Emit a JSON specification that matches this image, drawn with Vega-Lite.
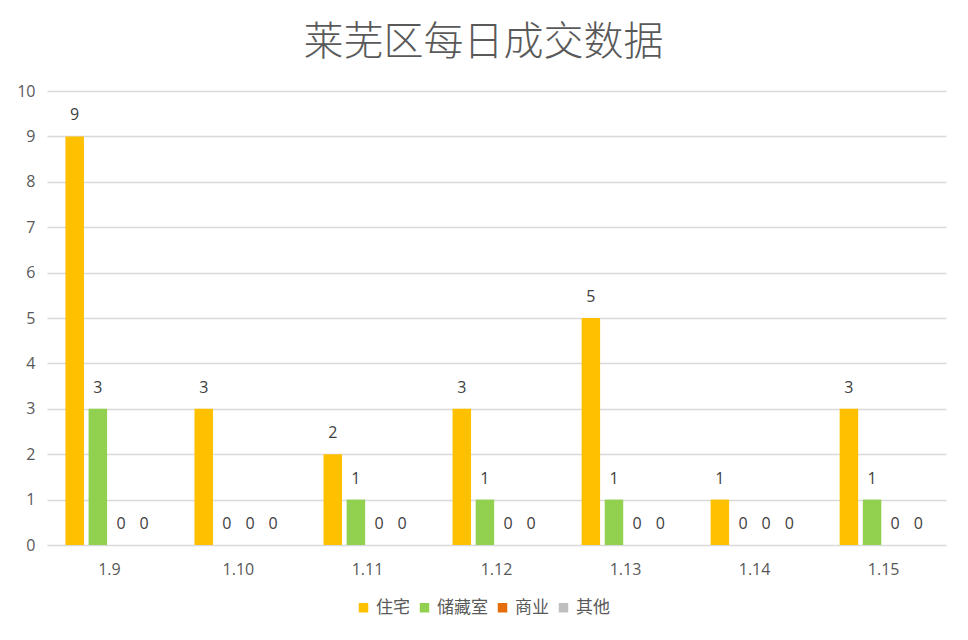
{
  "$schema": "https://vega.github.io/schema/vega-lite/v6.json",
  "autosize": "none",
  "width": 899,
  "height": 454,
  "padding": {"left": 47, "top": 91, "right": 22, "bottom": 95},
  "background": "#ffffff",
  "title": {
    "text": "莱芜区每日成交数据",
    "fontSize": 40,
    "fontWeight": 300,
    "font": "Noto Sans CJK SC",
    "color": "#595959",
    "anchor": "middle",
    "dx": -13,
    "offset": 20
  },
  "data": {
    "values": [
      {"date": "1.9", "type": "住宅", "count": 9},
      {"date": "1.9", "type": "储藏室", "count": 3},
      {"date": "1.9", "type": "商业", "count": 0},
      {"date": "1.9", "type": "其他", "count": 0},
      {"date": "1.10", "type": "住宅", "count": 3},
      {"date": "1.10", "type": "储藏室", "count": 0},
      {"date": "1.10", "type": "商业", "count": 0},
      {"date": "1.10", "type": "其他", "count": 0},
      {"date": "1.11", "type": "住宅", "count": 2},
      {"date": "1.11", "type": "储藏室", "count": 1},
      {"date": "1.11", "type": "商业", "count": 0},
      {"date": "1.11", "type": "其他", "count": 0},
      {"date": "1.12", "type": "住宅", "count": 3},
      {"date": "1.12", "type": "储藏室", "count": 1},
      {"date": "1.12", "type": "商业", "count": 0},
      {"date": "1.12", "type": "其他", "count": 0},
      {"date": "1.13", "type": "住宅", "count": 5},
      {"date": "1.13", "type": "储藏室", "count": 1},
      {"date": "1.13", "type": "商业", "count": 0},
      {"date": "1.13", "type": "其他", "count": 0},
      {"date": "1.14", "type": "住宅", "count": 1},
      {"date": "1.14", "type": "储藏室", "count": 0},
      {"date": "1.14", "type": "商业", "count": 0},
      {"date": "1.14", "type": "其他", "count": 0},
      {"date": "1.15", "type": "住宅", "count": 3},
      {"date": "1.15", "type": "储藏室", "count": 1},
      {"date": "1.15", "type": "商业", "count": 0},
      {"date": "1.15", "type": "其他", "count": 0}
    ]
  },
  "encoding": {
    "x": {
      "field": "date",
      "type": "nominal",
      "sort": ["1.9", "1.10", "1.11", "1.12", "1.13", "1.14", "1.15"],
      "scale": {"paddingInner": 0.283, "paddingOuter": 0.125},
      "axis": {
        "title": null,
        "labelAngle": 0,
        "labelFontSize": 16,
        "labelColor": "#595959",
        "labelPadding": 16,
        "ticks": false,
        "domainColor": "#D9D9D9",
        "grid": false
      }
    },
    "xOffset": {
      "field": "type",
      "type": "nominal",
      "sort": ["住宅", "储藏室", "商业", "其他"],
      "scale": {"paddingInner": 0.2, "paddingOuter": 0.1}
    },
    "y": {
      "field": "count",
      "type": "quantitative",
      "scale": {"domain": [0, 10], "nice": false},
      "axis": {
        "title": null,
        "values": [0, 1, 2, 3, 4, 5, 6, 7, 8, 9, 10],
        "labelFontSize": 16,
        "labelColor": "#595959",
        "labelPadding": 12,
        "ticks": false,
        "domain": false,
        "gridColor": "#D9D9D9",
        "gridWidth": 1.3
      }
    }
  },
  "layer": [
    {
      "mark": {"type": "bar"},
      "encoding": {
        "color": {
          "field": "type",
          "type": "nominal",
          "sort": ["住宅", "储藏室", "商业", "其他"],
          "scale": {
            "domain": ["住宅", "储藏室", "商业", "其他"],
            "range": ["#FFC000", "#92D050", "#E46C0A", "#BFBFBF"]
          },
          "legend": {
            "title": null,
            "orient": "none",
            "direction": "horizontal",
            "legendX": 308,
            "legendY": 508,
            "symbolType": "square",
            "symbolSize": 90,
            "symbolStrokeWidth": 0,
            "labelFontSize": 17,
            "labelColor": "#595959",
            "labelFont": "Noto Sans CJK SC",
            "labelOffset": 4,
            "columnPadding": 6
          }
        }
      }
    },
    {
      "mark": {"type": "text", "dy": -21, "fontSize": 16, "color": "#404040"},
      "encoding": {
        "text": {"field": "count", "type": "quantitative"}
      }
    }
  ],
  "config": {
    "font": "Open Sans",
    "view": {"stroke": null}
  }
}
